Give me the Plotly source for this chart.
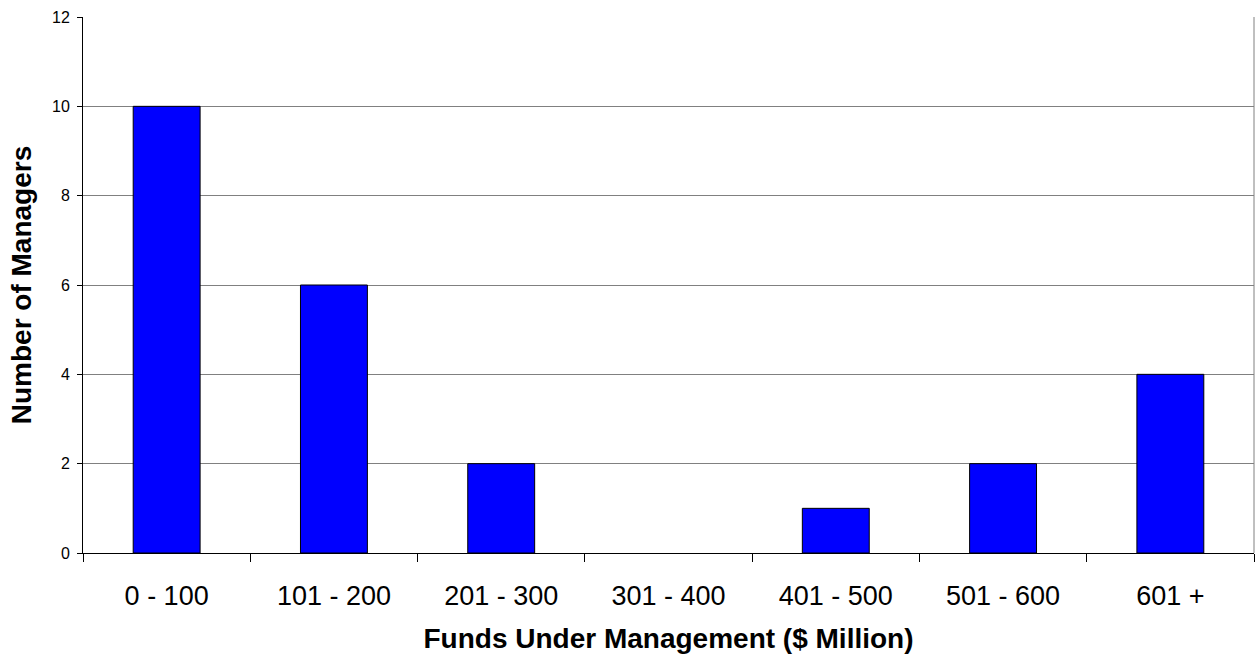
import plotly.graph_objects as go

categories = ["0 - 100", "101 - 200", "201 - 300", "301 - 400", "401 - 500", "501 - 600", "601 +"]
managers = [10, 6, 2, 0, 1, 2, 4]
y_ticks = [0, 2, 4, 6, 8, 10, 12]

outline_widths = [1 if v > 0 else 0 for v in managers]

fig = go.Figure()
fig.add_trace(go.Bar(
    x=categories, y=managers,
    marker=dict(color="#0000FF", line=dict(color="#000000", width=outline_widths)),
    width=0.4,
))

fig.update_layout(
    width=1258, height=658,
    margin=dict(l=83, r=4, t=17, b=105),
    paper_bgcolor="white", plot_bgcolor="white",
    font=dict(family="Arial, Liberation Sans, sans-serif", color="black"),
    showlegend=False,
    xaxis=dict(
        type="category", range=[-0.5, 6.5],
        showline=True, linecolor="black", linewidth=1,
        ticks="outside", tickson="boundaries", ticklen=8, tickcolor="black",
        tickfont=dict(size=27), ticklabelstandoff=19,
        showgrid=False,
        title=dict(text="<b>Funds Under Management ($ Million)</b>", font=dict(size=28), standoff=17),
    ),
    yaxis=dict(
        range=[0, 12], tickvals=y_ticks,
        showline=True, linecolor="black", linewidth=1,
        ticks="outside", ticklen=5, tickcolor="black",
        tickfont=dict(size=16), ticklabelstandoff=4,
        showgrid=True, gridcolor="#808080", gridwidth=1,
        zeroline=False,
        title=dict(text="<b>Number of Managers</b>", font=dict(size=28), standoff=12),
    ),
    shapes=[dict(type="line", xref="paper", yref="paper", x0=1, x1=1, y0=0, y1=1,
                 line=dict(color="#808080", width=1))],
)

fig.write_html("out.html")
